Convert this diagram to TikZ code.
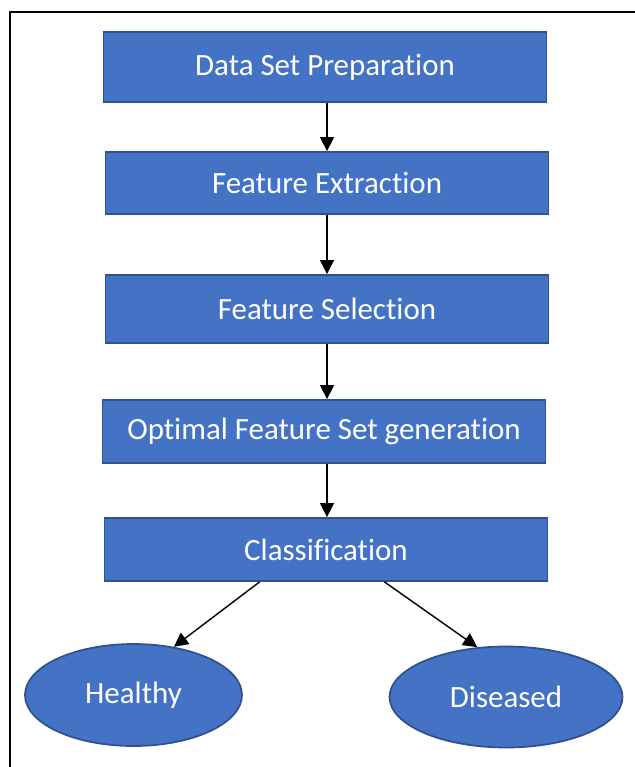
\documentclass[tikz,border=0pt]{standalone}
\usepackage{fontspec}
\setsansfont{Carlito}[Ligatures=NoCommon]
\usetikzlibrary{
    shapes.geometric,
    arrows.meta,
    positioning
}
\definecolor{boxblue}{RGB}{68,114,196}
\definecolor{edgeblue}{RGB}{47,82,143}
\tikzset{
    % Process boxes
    procbox/.style={
        rectangle,
        draw=edgeblue,
        line width=1pt,
        fill=boxblue,
        minimum width=8.86cm,
        minimum height=1.26cm,
        align=center,
        text=white,
        font=\sffamily\fontsize{17.6}{20}\selectfont
    },
    % Result ellipses
    outcome/.style={
        ellipse,
        draw=edgeblue,
        line width=1pt,
        fill=boxblue,
        inner sep=0pt,
        align=center,
        text=white,
        font=\sffamily\fontsize{17.6}{20}\selectfont
    },
    % Arrows
    flow/.style={
        -{Triangle[width=8pt,length=8pt]},
        line width=0.8pt,
        draw=black
    },
    frameline/.style={
        line width=1.2pt,
        draw=black
    }
}
\begin{document}
\begin{tikzpicture}[x=0.02cm, y=-0.02cm]

    \useasboundingbox (0,0) rectangle (635,767);

    % Frame (cut off on the right and at the bottom)
    \draw[frameline] (10,767) -- (10,12) -- (635,12);

    % Steps
    \node[procbox, minimum height=1.4cm] (prep) at (325,67) {Data Set Preparation};
    \node[procbox, minimum height=1.24cm] (extract) at (327,183) {Feature Extraction};
    \node[procbox, minimum height=1.36cm] (select) at (327,309) {Feature Selection};
    \node[procbox] (optimal) at (324,431.5) {Optimal Feature Set generation};
    \node[procbox] (classify) at (326,549.5) {Classification};

    % Outcomes
    \node[outcome, minimum width=4.34cm, minimum height=2.04cm] (healthy) at (133.5,695) {Healthy};
    \node[outcome, minimum width=4.66cm, minimum height=2.02cm] (diseased) at (506,697) {Diseased};

    % Arrows - main flow
    \draw[flow] (prep.south -| extract.north) -- (extract.north);
    \draw[flow] (extract) -- (select);
    \draw[flow] (select.south) -- (select.south |- optimal.north);
    \draw[flow] (optimal.south -| select.south) -- (classify.north -| select.south);

    % Arrows - classes
    \draw[flow] (classify.206) -- (healthy.50);
    \draw[flow] (classify.331) -- (diseased.120);

\end{tikzpicture}
\end{document}
